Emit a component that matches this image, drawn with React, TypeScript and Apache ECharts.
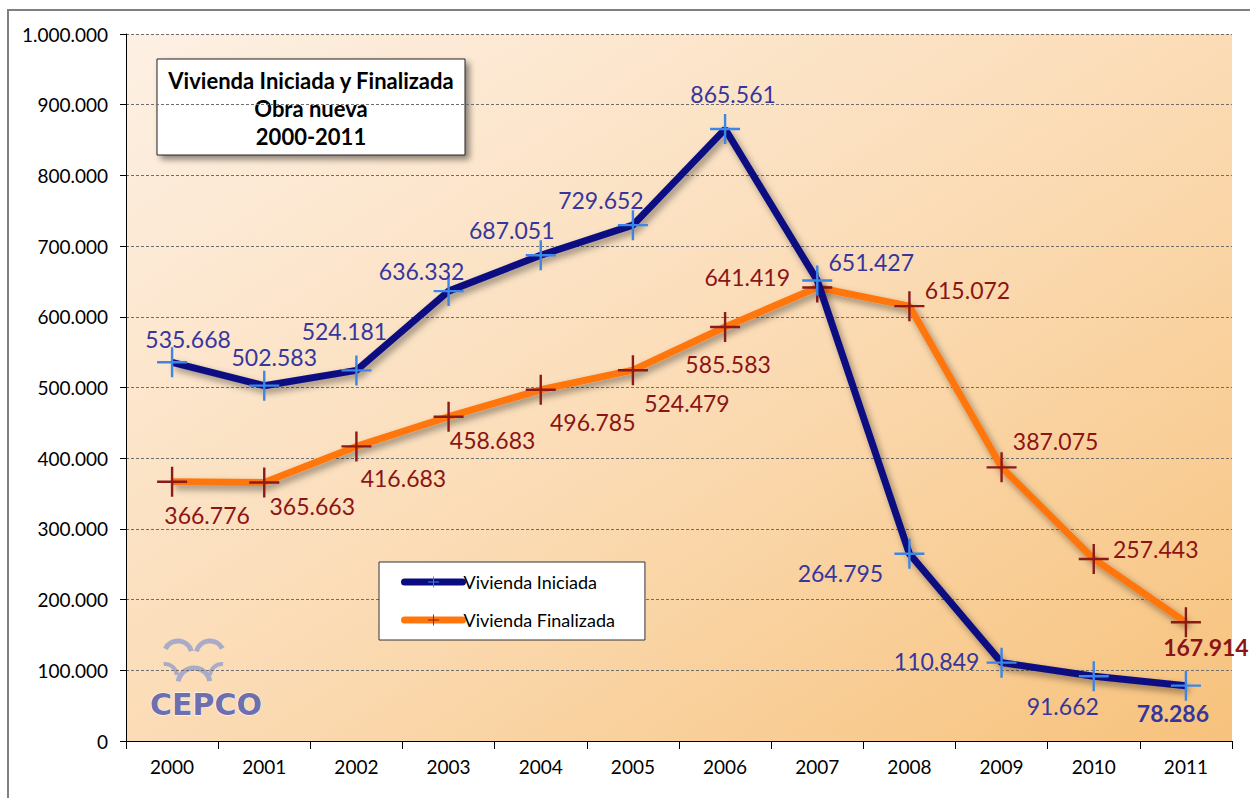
import React, { useEffect, useRef } from "react";
import * as echarts from "echarts";

const years = ["2000", "2001", "2002", "2003", "2004", "2005", "2006", "2007", "2008", "2009", "2010", "2011"];
const iniciada = [535668, 502583, 524181, 636332, 687051, 729652, 865561, 651427, 264795, 110849, 91662, 78286];
const finalizada = [366776, 365663, 416683, 458683, 496785, 524479, 585583, 641419, 615072, 387075, 257443, 167914];
const seriesNames = ["Vivienda Iniciada", "Vivienda Finalizada"];
const titleLines = ["Vivienda Iniciada y Finalizada", "Obra nueva", "2000-2011"];

// label placement (pixel offsets from each point)
const iniOffsets = [[16, -23], [10, -29], [-12, -39], [-27, -20], [-29, -25], [-32, -25], [8, -35], [54, -18], [-69, 19], [-65, -2], [-31, 30], [-13, 27]];
const finOffsets = [[35, 33], [48, 24], [47, 32], [44, 23], [52, 32], [54, 33], [3, 37], [-70, -11], [58, -16], [54, -26], [62, -10], [20, 25]];

const fmt = (v: number) => (v === 0 ? "0" : String(v).replace(/\B(?=(\d{3})+(?!\d))/g, "."));
const FONT = "Lato";
const CROSS = "path://M-1.2,-15 H1.2 V-1.2 H15 V1.2 H1.2 V15 H-1.2 V1.2 H-15 V-1.2 H-1.2 Z";

export default function App() {
  const ref = useRef<HTMLDivElement>(null);
  useEffect(() => {
    if (!ref.current) return;
    const chart = echarts.init(ref.current, null, { renderer: "svg" });
    const mk = (vals: number[], offs: number[][]) =>
      vals.map((v, i) => ({
        value: v,
        label: { offset: offs[i], fontWeight: i === vals.length - 1 ? "bold" : "normal" },
      }));
    const shadow = { shadowColor: "rgba(0,0,0,0.4)", shadowBlur: 7, shadowOffsetX: 3, shadowOffsetY: 4 };
    chart.setOption({
      animation: false,
      backgroundColor: "#ffffff",
      textStyle: { fontFamily: FONT },
      grid: {
        left: 126,
        right: 18,
        top: 34,
        bottom: 57,
        show: true,
        borderWidth: 0,
        backgroundColor: new echarts.graphic.LinearGradient(0, 0, 1, 1, [
          { offset: 0, color: "#fdf0e4" },
          { offset: 0.5, color: "#fbdcb6" },
          { offset: 1, color: "#f7c27c" },
        ]),
      },
      legend: {
        left: 379,
        top: 562,
        orient: "vertical",
        backgroundColor: "#ffffff",
        borderColor: "#333333",
        borderWidth: 1,
        borderRadius: 0,
        padding: [11, 30, 11, 22],
        itemGap: 20,
        itemWidth: 58,
        itemHeight: 14,
        lineStyle: { width: 7, cap: "round" },
        textStyle: { fontFamily: FONT, fontSize: 18, color: "#000000", padding: [0, 0, 0, -4] },
        data: seriesNames,
      },
      xAxis: {
        type: "category",
        data: years,
        boundaryGap: true,
        axisLine: { lineStyle: { color: "#000000", width: 1 } },
        axisTick: { show: true, length: 8, lineStyle: { color: "#000000" } },
        axisLabel: { fontFamily: FONT, fontSize: 19, color: "#000000", margin: 16 },
        splitLine: { show: false },
      },
      yAxis: {
        type: "value",
        min: 0,
        max: 1000000,
        interval: 100000,
        axisLine: { show: true, lineStyle: { color: "#000000", width: 1 } },
        axisTick: { show: true, length: 6, lineStyle: { color: "#000000" } },
        axisLabel: { fontFamily: FONT, fontSize: 19, color: "#000000", margin: 18, formatter: (v: number) => fmt(v) },
        splitLine: { show: true, lineStyle: { color: "#6e6e6e", type: [3, 2], width: 1 } },
      },
      series: [
        {
          name: seriesNames[0],
          type: "line",
          data: mk(iniciada, iniOffsets),
          symbol: CROSS,
          symbolSize: 30,
          z: 3,
          lineStyle: { color: "#0b0b82", width: 7, ...shadow },
          itemStyle: { color: "#3b86e6" },
          label: {
            show: true,
            position: "inside",
            fontFamily: FONT,
            fontSize: 23,
            color: "#36369e",
            formatter: (p: any) => fmt(p.value),
          },
        },
        {
          name: seriesNames[1],
          type: "line",
          data: mk(finalizada, finOffsets),
          symbol: CROSS,
          symbolSize: 30,
          z: 2,
          lineStyle: { color: "#ff760c", width: 7, ...shadow },
          itemStyle: { color: "#8b1a1a" },
          label: {
            show: true,
            position: "inside",
            fontFamily: FONT,
            fontSize: 23,
            color: "#8b1414",
            formatter: (p: any) => fmt(p.value),
          },
        },
      ],
      graphic: [
        {
          type: "rect",
          shape: { x: 8, y: 10, width: 1300, height: 900 },
          style: { fill: "none", stroke: "#808080", lineWidth: 2 },
          silent: true,
          z: 0,
        },
        {
          type: "group",
          z: 10,
          children: [
            {
              type: "rect",
              shape: { x: 157, y: 59, width: 308, height: 96 },
              style: {
                fill: "#ffffff",
                stroke: "#222222",
                lineWidth: 1,
                shadowColor: "rgba(0,0,0,0.45)",
                shadowBlur: 6,
                shadowOffsetX: 4,
                shadowOffsetY: 4,
              },
            },
            ...titleLines.map((t, i) => ({
              type: "text",
              x: 311,
              y: 80 + i * 28,
              style: {
                text: t,
                fill: "#000000",
                font: `bold 22px ${FONT}`,
                textAlign: "center",
                textVerticalAlign: "middle",
              },
            })),
          ],
        },
        {
          type: "group",
          z: 5,
          children: [
            { type: "arc", shape: { cx: 178, cy: 655, r: 14, startAngle: 3.6, endAngle: 6.0 }, style: { stroke: "#a9abc9", lineWidth: 5, fill: "none" } },
            { type: "arc", shape: { cx: 210, cy: 655, r: 14, startAngle: 3.4, endAngle: 5.8 }, style: { stroke: "#a9abc9", lineWidth: 5, fill: "none" } },
            { type: "arc", shape: { cx: 194, cy: 684, r: 16, startAngle: 3.3, endAngle: 6.1 }, style: { stroke: "#a9abc9", lineWidth: 5, fill: "none" } },
            { type: "arc", shape: { cx: 165, cy: 676, r: 12, startAngle: 4.6, endAngle: 6.2 }, style: { stroke: "#a9abc9", lineWidth: 4, fill: "none" } },
            { type: "arc", shape: { cx: 222, cy: 676, r: 12, startAngle: 3.2, endAngle: 4.8 }, style: { stroke: "#a9abc9", lineWidth: 4, fill: "none" } },
            {
              type: "text",
              x: 206,
              y: 704,
              style: {
                text: "CEPCO",
                fill: "#6e6fac",
                stroke: "#ffffff",
                lineWidth: 1,
                font: "bold 30px 'DejaVu Sans'",
                textAlign: "center",
                textVerticalAlign: "middle",
              },
            },
          ],
        },
      ],
    });
    return () => chart.dispose();
  }, []);
  return (
    <div
      ref={ref}
      style={{ position: "absolute", left: 0, top: 0, width: 1250, height: 798 }}
    />
  );
}
